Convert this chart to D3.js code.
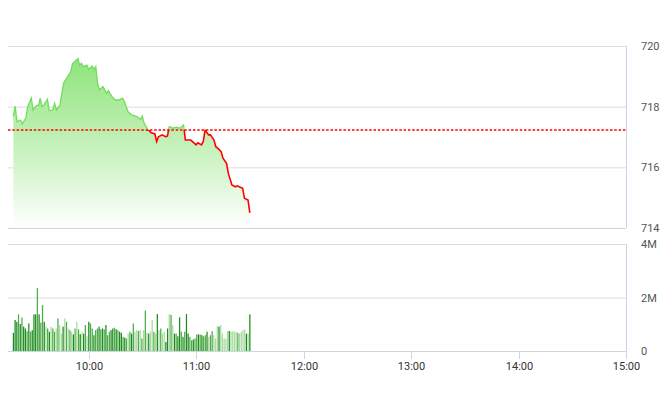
<!DOCTYPE html>
<html><head><meta charset="utf-8">
<script src="https://cdn.jsdelivr.net/npm/d3@7"></script>
<style>
html,body{margin:0;padding:0;background:#fff;}
svg{display:block;font-family:Roboto,"Noto Sans",Arial,sans-serif;}
</style></head>
<body>
<svg id="c" width="660" height="412"></svg>
<script>
// ---- data ----
const priceTimes = ["9:18","9:19","9:20","9:22","9:23","9:25","9:26","9:28","9:29","9:31","9:32","9:33","9:34","9:35","9:37","9:38","9:40","9:41","9:42","9:44","9:46","9:48","9:50","9:51","9:54","9:55","9:56","9:57","9:59","10:00","10:02","10:03","10:04","10:05","10:06","10:08","10:10","10:11","10:13","10:15","10:17","10:19","10:20","10:22","10:24","10:27","10:29","10:30","10:31","10:33","10:35","10:37","10:38","10:39","10:41","10:43","10:44","10:45","10:47","10:49","10:51","10:52","10:53","10:54","10:57","10:58","11:00","11:01","11:03","11:04","11:05","11:07","11:08","11:10","11:11","11:12","11:14","11:15","11:17","11:18","11:20","11:22","11:23","11:24","11:26","11:27","11:29","11:30"];
const priceValues = [717.69,718.02,717.50,717.56,717.43,717.63,718.00,718.28,717.89,718.05,718.03,718.28,718.00,718.05,718.24,717.87,717.89,718.11,717.89,718.05,718.77,718.97,719.15,719.41,719.59,719.37,719.43,719.32,719.37,719.23,719.34,719.23,719.32,718.77,718.55,718.66,718.44,718.53,718.33,718.22,718.22,718.28,718.16,717.83,717.73,717.67,717.58,717.69,717.45,717.25,717.14,717.10,716.85,717.01,717.07,717.01,717.03,717.34,717.29,717.32,717.29,717.34,717.40,716.90,716.90,716.85,716.74,716.81,716.74,716.85,717.23,717.07,717.07,716.90,716.68,716.63,716.52,716.30,716.13,715.80,715.42,715.36,715.39,715.36,715.31,714.98,714.92,714.50];
const referencePrice = 717.23;

const volumeStart = "9:18", volumeEnd = "11:30";
const volumes = [0.68,1.16,1.09,1.37,1.01,1.25,0.91,0.84,0.74,1.03,
0.72,0.78,1.37,1.37,2.35,1.37,1.06,1.72,1.09,0.91,
0.84,0.72,0.91,0.84,0.72,0.84,1.22,0.97,0.65,0.91,
1.22,1.09,0.84,0.78,0.72,0.62,0.84,1.09,0.81,0.63,
0.72,0.65,0.97,0.55,1.09,1.03,0.84,0.59,0.78,0.84,
0.91,0.81,0.84,0.81,0.97,0.59,0.72,0.78,0.84,0.87,
0.81,0.78,0.72,0.68,0.53,0.50,0.47,0.65,0.72,0.65,
1.03,0.72,0.78,0.75,0.78,0.47,0.78,1.51,0.68,0.65,
0.72,1.16,0.72,0.65,1.38,0.78,0.84,0.65,0.72,0.34,
0.84,1.38,1.35,0.97,0.65,0.65,0.55,1.26,0.72,0.53,
0.72,1.38,0.65,0.53,0.40,0.43,0.47,0.62,0.62,0.62,
0.59,0.55,0.59,0.72,0.53,0.59,0.74,0.59,0.47,0.94,
0.91,0.97,0.65,0.47,0.47,0.74,0.75,0.72,0.74,0.72,
0.72,0.68,0.65,0.72,0.78,0.81,0.65,0.65,1.37];
const volumeTone = ("dddmdmddmd" + "mdddmdmmdl" + "mdlmmlmlld" + "lmlmldmlmd" +
  "ldmldmmdmm" + "dmdmdmmddm" + "dmddmdmlmd" + "mllmlmlmld" +
  "llmldlmlld" + "dlmldmddmd" + "mddmmdmmdm" + "dmmdlmmlll" +
  "dllllldlll" + "lmlllldld").split("");
const priceTicks = [714,716,718,720];
const volumeTicks = [0,2,4];
const volumeTickLabels = ["0","2M","4M"];
const timeTicks = ["10:00","11:00","12:00","13:00","14:00","15:00"];
const domainTimes = ["9:15","15:00"];

// ---- chart ----
const parse = d3.timeParse("%H:%M");
const svg = d3.select("#c");
const x = d3.scaleTime().domain(domainTimes.map(parse)).range([8,626]);
const yP = d3.scaleLinear().domain([714,720]).range([228,46]);
const yV = d3.scaleLinear().domain([0,4]).range([351,244]);

const defs = svg.append("defs");
const grad = defs.append("linearGradient").attr("id","ag")
  .attr("gradientUnits","userSpaceOnUse").attr("x1",0).attr("x2",0)
  .attr("y1",yP(d3.max(priceValues))).attr("y2",yP(714));
grad.append("stop").attr("offset","0%").attr("stop-color","#8fe47c");
grad.append("stop").attr("offset","55%").attr("stop-color","#c9f2bf");
grad.append("stop").attr("offset","100%").attr("stop-color","#ffffff");
const refY = yP(referencePrice);
defs.append("clipPath").attr("id","above").append("rect")
  .attr("x",0).attr("y",0).attr("width",660).attr("height",refY);
defs.append("clipPath").attr("id","below").append("rect")
  .attr("x",0).attr("y",refY).attr("width",660).attr("height",412-refY);

// grid (price)
svg.append("g").selectAll("line").data(priceTicks).join("line")
  .attr("x1",x.range()[0]).attr("x2",x.range()[1])
  .attr("y1",d=>yP(d)+0.5).attr("y2",d=>yP(d)+0.5)
  .attr("stroke",d=>d===714?"#ccd6e0":"#dddddd").attr("stroke-width",1);
svg.append("g").selectAll("text").data(priceTicks).join("text")
  .attr("x",641).attr("y",d=>yP(d)+4).attr("font-size",11).attr("fill","#555")
  .text(d=>d);

// grid (volume)
svg.append("g").selectAll("line").data(volumeTicks).join("line")
  .attr("x1",x.range()[0]).attr("x2",x.range()[1])
  .attr("y1",d=>yV(d)+0.5).attr("y2",d=>yV(d)+0.5)
  .attr("stroke",d=>d===0?"#ccd6e0":"#dddddd").attr("stroke-width",1);
svg.append("g").selectAll("text").data(volumeTicks).join("text")
  .attr("x",641).attr("y",(d,i)=>yV(d)+(i===0?4:4)).attr("font-size",11).attr("fill","#555")
  .text((d,i)=>volumeTickLabels[i]);

// right border lines
svg.append("line").attr("x1",x.range()[1]+0.5).attr("x2",x.range()[1]+0.5)
  .attr("y1",yP(720)).attr("y2",yP(714)).attr("stroke","#c6d6e6");
svg.append("line").attr("x1",x.range()[1]+0.5).attr("x2",x.range()[1]+0.5)
  .attr("y1",yV(4)).attr("y2",yV(0)).attr("stroke","#c6d6e6");

// price area + lines
const pts = priceTimes.map((t,i)=>({t:parse(t),v:priceValues[i]}));
svg.append("path").datum(pts)
  .attr("d",d3.area().x(d=>x(d.t)).y0(yP(714)).y1(d=>yP(d.v)))
  .attr("fill","url(#ag)");
const line = d3.line().x(d=>x(d.t)).y(d=>yP(d.v));
svg.append("path").datum(pts).attr("d",line).attr("fill","none")
  .attr("stroke","#72dd5e").attr("stroke-width",1.3).attr("clip-path","url(#above)");
svg.append("path").datum(pts).attr("d",line).attr("fill","none")
  .attr("stroke","#ff0000").attr("stroke-width",1.6).attr("clip-path","url(#below)");
svg.append("line").attr("x1",x.range()[0]).attr("x2",x.range()[1])
  .attr("y1",refY).attr("y2",refY).attr("stroke","#ff0000")
  .attr("stroke-width",1.3).attr("stroke-dasharray","2.5,1.8");

// volume bars
const vx0 = x(parse(volumeStart)), vx1 = x(parse(volumeEnd));
const step = (vx1-vx0)/(volumes.length-1);
const toneColor = {d:"#1d8a1d", m:"#4cad46", l:"#a9dba0"};
svg.append("g").selectAll("rect").data(volumes).join("rect")
  .attr("x",(d,i)=>vx0+i*step-0.6).attr("width",1.25)
  .attr("y",d=>yV(d)).attr("height",d=>yV(0)-yV(d))
  .attr("fill",(d,i)=>toneColor[volumeTone[i]||"m"]);

// x axis ticks
const tg = svg.append("g").selectAll("g").data(timeTicks).join("g")
  .attr("transform",d=>`translate(${Math.round(x(parse(d)))+0.5},0)`);
tg.append("line").attr("y1",yV(0)).attr("y2",yV(0)+8).attr("stroke","#ccd6e0");
tg.append("text").attr("y",370).attr("text-anchor","middle").attr("font-size",11)
  .attr("fill","#333").text(d=>d);
</script>
</body></html>
